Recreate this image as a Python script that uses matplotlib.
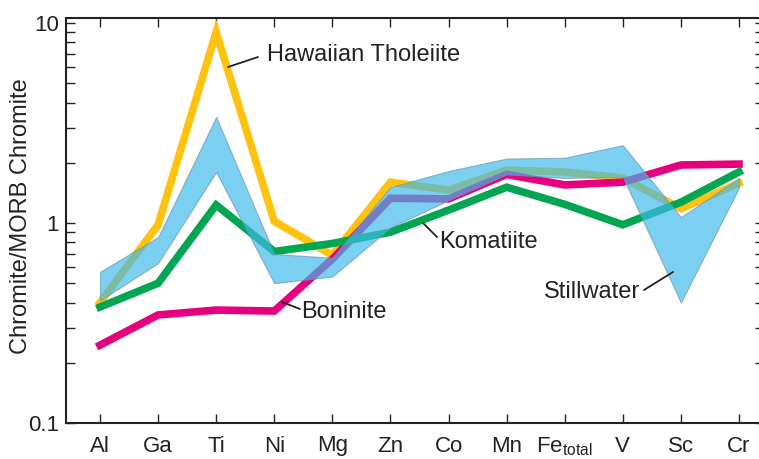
import matplotlib
matplotlib.use("Agg")
import matplotlib.pyplot as plt
from matplotlib.ticker import LogLocator, NullFormatter, FixedLocator
import numpy as np

plt.rcParams['font.family'] = ['Liberation Sans', 'DejaVu Sans']
plt.rcParams['mathtext.default'] = 'regular'

categories = ['Al', 'Ga', 'Ti', 'Ni', 'Mg', 'Zn', 'Co', 'Mn', r'Fe$_{total}$', 'V', 'Sc', 'Cr']

hawaiian = [0.40, 0.98, 9.0, 1.02, 0.69, 1.60, 1.46, 1.84, 1.80, 1.68, 1.18, 1.58]
boninite = [0.245, 0.347, 0.367, 0.363, 0.66, 1.33, 1.32, 1.75, 1.55, 1.60, 1.95, 1.97]
komatiite = [0.38, 0.50, 1.23, 0.72, 0.79, 0.90, 1.16, 1.51, 1.24, 0.98, 1.27, 1.80]
stillwater_hi = [0.57, 0.85, 3.39, 0.70, 0.67, 1.51, 1.82, 2.10, 2.12, 2.45, 1.07, 1.68]
stillwater_lo = [0.41, 0.63, 1.80, 0.50, 0.54, 0.95, 1.30, 1.75, 1.68, 1.70, 0.40, 1.50]

x = np.arange(len(categories))

fig = plt.figure(figsize=(7.59, 4.59), dpi=100)
ax = fig.add_axes([66/759, 36/459, 698/759, 405/459])

ax.plot(x, hawaiian, color='#FFC20E', lw=5.5, solid_joinstyle='miter', zorder=2)
ax.plot(x, boninite, color='#E6007E', lw=5.5, solid_joinstyle='miter', zorder=2)
ax.plot(x, komatiite, color='#00A651', lw=5.5, solid_joinstyle='miter', zorder=2)
ax.fill_between(x, stillwater_lo, stillwater_hi, facecolor='#3DBBEC', alpha=0.68,
                edgecolor='#6F95AE', linewidth=0.8, zorder=3)

ax.set_yscale('log')
ax.set_xlim(-34/58.09, 664/58.09)
ax.set_ylim(0.1, 10**1.025)

ax.set_xticks(x)
ax.set_xticklabels(categories)
ax.yaxis.set_major_locator(FixedLocator([0.1, 1, 10]))
ax.set_yticklabels(['0.1', '1', '10'])
ax.yaxis.set_minor_locator(LogLocator(base=10, subs=np.arange(2, 10)))
ax.yaxis.set_minor_formatter(NullFormatter())

ax.tick_params(axis='x', which='both', direction='in', length=6.5, width=1.0,
               top=True, bottom=True, labelsize=16, pad=9, colors='#222222')
ax.tick_params(axis='y', which='both', direction='in', length=6.5, width=1.0,
               left=True, right=True, labelsize=16, pad=5, colors='#222222')

for s in ['left', 'top', 'bottom', 'right']:
    ax.spines[s].set_linewidth(1.5)
    ax.spines[s].set_color('#222222')

ax.set_ylabel('Chromite/MORB Chromite', fontsize=17, color='#222222')
ax.yaxis.set_label_coords(-0.0487, 0.51)


def px2data(px, py):
    return (px - 100) / 58.09, 10 ** ((223 - py) / 200)


def label(text, tip, tail, tpos, ha):
    ax.annotate('', xy=px2data(*tip), xytext=px2data(*tail),
                arrowprops=dict(arrowstyle='-', color='#222222', lw=1.3,
                                shrinkA=0, shrinkB=0), zorder=5)
    ax.text(*px2data(*tpos), text, ha=ha, va='center', fontsize=17,
            color='#222222', zorder=5)


label('Hawaiian Tholeiite', (228, 67), (258, 57), (267, 55), 'left')
label('Komatiite', (423, 223), (437, 237), (439, 242), 'left')
label('Boninite', (282, 302), (300, 309), (301, 312), 'left')
label('Stillwater', (673, 272), (644, 290), (640, 292), 'right')

fig.savefig('out.png', dpi=100)
